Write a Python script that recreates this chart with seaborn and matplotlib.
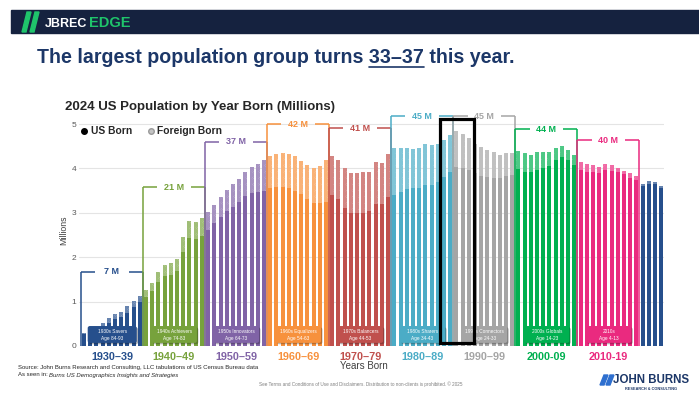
import numpy as np
import pandas as pd
import matplotlib.pyplot as plt
import seaborn as sns
import matplotlib.patheffects as pe
from matplotlib.patches import FancyBboxPatch, Rectangle, Polygon
from matplotlib.lines import Line2D
from matplotlib.colors import to_rgb

sns.set_theme(style="white")
plt.rcParams["font.family"] = ["Liberation Sans", "DejaVu Sans"]
plt.rcParams["hatch.linewidth"] = 0.8

# data (millions)
decades = [1930, 1940, 1950, 1960, 1970, 1980, 1990, 2000, 2010, 2020]
decade_labels = ["1930–39", "1940–49", "1950–59", "1960–69", "1970–79",
                 "1980–89", "1990–99", "2000-09", "2010-19"]
decade_totals = ["7 M", "21 M", "37 M", "42 M", "41 M", "45 M", "45 M", "44 M", "40 M"]
generation_names = ["1930s Savers", "1940s Achievers", "1950s Innovators", "1960s Equalizers",
                    "1970s Balancers", "1980s Sharers", "1990s Connectors", "2000s Globals", "2010s"]
generation_ages = ["Age 84-93", "Age 74-83", "Age 64-73", "Age 54-63", "Age 44-53",
                   "Age 34-43", "Age 24-33", "Age 14-23", "Age 4-13"]
decade_colors = ["#264f8c", "#77a23c", "#8063a6", "#f7913d", "#c0504d",
                 "#4bacc6", "#a5a5a5", "#00b050", "#ea2a7f", "#264f8c"]

total_pop = [
    0.30, 0.36, 0.42, 0.52, 0.62, 0.72, 0.77, 0.89, 1.01, 1.13,
    1.26, 1.43, 1.67, 1.83, 1.86, 1.96, 2.45, 2.82, 2.80, 2.89,
    3.02, 3.18, 3.35, 3.51, 3.65, 3.77, 3.92, 4.04, 4.10, 4.20,
    4.27, 4.33, 4.34, 4.33, 4.28, 4.16, 4.07, 4.02, 4.05, 4.18,
    4.28, 4.20, 4.02, 3.90, 3.89, 3.92, 3.93, 4.14, 4.13, 4.32,
    4.46, 4.47, 4.47, 4.43, 4.46, 4.54, 4.53, 4.56, 4.64, 4.76,
    4.85, 4.77, 4.68, 4.55, 4.48, 4.41, 4.37, 4.31, 4.35, 4.35,
    4.40, 4.35, 4.31, 4.36, 4.36, 4.38, 4.47, 4.51, 4.42, 4.30,
    4.15, 4.10, 4.08, 4.04, 4.10, 4.08, 4.02, 3.94, 3.89, 3.83,
    3.65, 3.72, 3.69, 3.60,
]
us_born = [
    0.28, 0.33, 0.38, 0.45, 0.51, 0.60, 0.66, 0.75, 0.87, 0.98,
    1.10, 1.24, 1.45, 1.58, 1.61, 1.69, 2.12, 2.44, 2.40, 2.48,
    2.62, 2.76, 2.90, 3.03, 3.14, 3.25, 3.37, 3.44, 3.47, 3.50,
    3.56, 3.59, 3.59, 3.56, 3.50, 3.42, 3.32, 3.23, 3.21, 3.25,
    3.39, 3.30, 3.11, 3.00, 2.99, 2.99, 3.03, 3.19, 3.19, 3.35,
    3.40, 3.47, 3.53, 3.55, 3.56, 3.62, 3.63, 3.70, 3.81, 3.91,
    4.04, 4.00, 3.96, 3.90, 3.84, 3.80, 3.79, 3.79, 3.83, 3.86,
    3.98, 3.92, 3.92, 3.96, 4.00, 4.05, 4.19, 4.26, 4.19, 4.08,
    3.96, 3.91, 3.91, 3.89, 3.96, 3.94, 3.92, 3.87, 3.79, 3.73,
    3.60, 3.66, 3.65, 3.57,
]
bracket_heights = [1.67, 3.58, 4.60, 5.00, 4.90, 5.18, 5.18, 4.88, 4.64]

NAVY = "#1c3768"
W, H = 699, 400
HEAD_SIZE = 14.1


def tint(c, f):
    return tuple(float(np.clip(1 - (1 - x) * f, 0, 1)) for x in to_rgb(c))


years = np.arange(1930, 1930 + len(total_pop))
df = pd.DataFrame({"year": years, "total": total_pop, "us": us_born})
df["decade"] = (df.year // 10 * 10).astype(str)

pal_dark = {str(d): c for d, c in zip(decades, decade_colors)}
pal_light = {str(d): tint(c, 0.3) for d, c in zip(decades, decade_colors)}
# hatch colour keyed by the light face colour
hatch_of = {tint(c, 0.3): tint(c, 0.7) for c in decade_colors}

fig = plt.figure(figsize=(W / 100, H / 100), dpi=100)
ax = fig.add_axes([79 / W, 54 / H, 585 / W, 224.2 / H])

# foreign born (hatched) behind, US born on top
sns.barplot(data=df, x="year", y="total", hue="decade", palette=pal_light,
            native_scale=True, dodge=False, width=0.65, saturation=1,
            errorbar=None, legend=False, linewidth=0, hatch="x" * 14, ax=ax)
n_foreign = len(ax.patches)
keys = list(hatch_of)
for p in ax.patches[:n_foreign]:
    fc = np.array(p.get_facecolor()[:3])
    k = min(keys, key=lambda c: np.abs(np.array(c) - fc).sum())
    p.set_edgecolor(hatch_of[k])
    p.set_linewidth(0)
sns.barplot(data=df, x="year", y="us", hue="decade", palette=pal_dark,
            native_scale=True, dodge=False, width=0.65, saturation=1,
            errorbar=None, legend=False, linewidth=0, ax=ax)

ax.set_xlim(1929.2, 2023.45)
ax.set_ylim(0, 5.05)
ax.set_xticks([])
ax.set_yticks(range(6))
ax.tick_params(axis="y", labelsize=6, labelcolor="#595959", pad=2, length=0)
ax.set_xlabel("")
ax.set_ylabel("")
ax.yaxis.grid(True, color="#e4e4e4", lw=0.8)
ax.set_axisbelow(True)
sns.despine(ax=ax, left=True, bottom=True)
ax.text(-0.026, 2.6, "Millions", rotation=90, fontsize=6.3, color="#404040",
        ha="center", va="center", transform=ax.get_yaxis_transform())

# brackets with decade totals
for i, d in enumerate(decades[:-1]):
    col = decade_colors[i]
    h = bracket_heights[i]
    x0, x1, xc = d - 0.5, d + 9.5, d + 4.5
    kw = dict(color=col, lw=1.1, clip_on=False, zorder=4, solid_capstyle="butt")
    ax.plot([x0, x0], [0, h], **kw)
    ax.plot([x1, x1], [0, h], **kw)
    ax.plot([x0, xc - 2.7], [h, h], **kw)
    ax.plot([xc + 2.7, x1], [h, h], **kw)
    ax.text(xc, h, decade_totals[i], color=col, fontsize=6.5, fontweight="bold",
            ha="center", va="center", zorder=5, clip_on=False)
    # decade label under axis
    ax.text(xc, -0.25, decade_labels[i], color=col, fontsize=7.8, fontweight="bold",
            ha="center", va="center", clip_on=False)
    # generation box
    bx0, bx1 = (d + 0.6, d + 8.5) if i == 0 else (d + 0.9, d + 8.2)
    box = FancyBboxPatch((bx0, 0.07), bx1 - bx0, 0.38,
                         boxstyle="round,pad=0,rounding_size=0.35",
                         mutation_aspect=0.14, facecolor=col, edgecolor="none",
                         zorder=5, clip_on=False,
                         path_effects=[pe.withSimplePatchShadow(offset=(1, -1), alpha=0.35)])
    ax.add_patch(box)
    ax.text((bx0 + bx1) / 2, 0.33, generation_names[i], color="white", fontsize=3.4,
            ha="center", va="center", zorder=6)
    ax.text((bx0 + bx1) / 2, 0.18, generation_ages[i], color="white", fontsize=3.4,
            ha="center", va="center", zorder=6)

ax.text(1975.1, -0.45, "Years Born", fontsize=7, color="#404040",
        ha="center", va="center", clip_on=False)

# highlight box + arrow
ax.add_patch(Rectangle((1987.35, 0.07), 5.48, 5.04, fill=False, edgecolor="black",
                       lw=2.3, zorder=7, clip_on=False))
ax.annotate("", xy=(1989.9, 5.15), xycoords="data",
            xytext=(383 / W, 1 - 86 / H), textcoords="figure fraction",
            arrowprops=dict(arrowstyle="-|>", lw=2, color="black",
                            mutation_scale=12, shrinkA=0, shrinkB=0), zorder=8)

# legend
fig.add_artist(Line2D([84 / W], [1 - 131 / H], marker="o", markersize=4,
                      color="black", linestyle="", transform=fig.transFigure))
fig.text(91 / W, 1 - 131 / H, "US Born", fontsize=7.4, fontweight="bold",
         color="#262626", va="center")
fig.add_artist(Line2D([151 / W], [1 - 131 / H], marker="o", markersize=4,
                      markerfacecolor="#c4c4c4", markeredgecolor="#9a9a9a",
                      linestyle="", transform=fig.transFigure))
fig.text(157 / W, 1 - 131 / H, "Foreign Born", fontsize=7.4, fontweight="bold",
         color="#262626", va="center")

# chart title
fig.text(65 / W, 1 - 107 / H, "2024 US Population by Year Born (Millions)",
         fontsize=9.5, fontweight="bold", color="#262626", va="center")

# banner
fig.add_artist(Rectangle((11 / W, 1 - 33 / H), 1, 23 / H, color="#15223f",
                         transform=fig.transFigure))
for dx in (0, 8):
    fig.add_artist(Polygon([((22 + dx) / W, 1 - 32 / H), ((26 + dx) / W, 1 - 32 / H),
                            ((31 + dx) / W, 1 - 12 / H), ((27 + dx) / W, 1 - 12 / H)],
                           closed=True, color="#1fc46b", transform=fig.transFigure))
fig.text(45 / W, 1 - 27 / H, "JBREC", fontsize=9, fontweight="bold", color="white",
         va="baseline")
fig.text(89 / W, 1 - 27 / H, "EDGE", fontsize=10.5, fontweight="bold", color="#1fc46b",
         va="baseline")

# headline with underlined years
head = "The largest population group turns 33–37 this year."
hx, hy = 37 / W, 1 - 63 / H
fig.text(hx, hy, head, fontsize=HEAD_SIZE, fontweight="bold", color=NAVY, va="baseline")
rend = fig.canvas.get_renderer()


def text_width(s):
    t = fig.text(0, 0, s, fontsize=HEAD_SIZE, fontweight="bold")
    wd = t.get_window_extent(renderer=rend).width
    t.remove()
    return wd


end = hx * W + text_width("The largest population group turns 33–37")
start = end - text_width("33–37")
fig.add_artist(Line2D([start / W, end / W], [hy - 4 / H] * 2, color=NAVY, lw=1.2,
                      transform=fig.transFigure))

# source and footer
fig.text(18 / W, 1 - 367 / H,
         "Source: John Burns Research and Consulting, LLC tabulations of US Census Bureau data",
         fontsize=4.3, color="#262626", va="center")
fig.text(18 / W, 1 - 375 / H, "As seen in: ", fontsize=4.3, color="#262626", va="center")
fig.text(49 / W, 1 - 375 / H, "Burns US Demographics Insights and Strategies",
         fontsize=4.3, color="#262626", va="center", style="italic")
fig.text(361 / W, 1 - 384 / H,
         "See Terms and Conditions of Use and Disclaimers. Distribution to non-clients is prohibited. © 2025",
         fontsize=3.3, color="#7f7f7f", ha="center", va="center")

# logo
for dx in (0, 6):
    fig.add_artist(Polygon([((600 + dx) / W, 1 - 385 / H), ((604 + dx) / W, 1 - 385 / H),
                            ((608 + dx) / W, 1 - 375 / H), ((604 + dx) / W, 1 - 375 / H)],
                           closed=True, color="#2e6fcf", transform=fig.transFigure))
fig.text(613 / W, 1 - 380 / H, "JOHN BURNS", fontsize=8.3, fontweight="bold",
         color=NAVY, va="center")
fig.text(651 / W, 1 - 389 / H, "RESEARCH & CONSULTING", fontsize=2.8,
         fontweight="bold", color=NAVY, ha="center", va="center")

fig.savefig("out.png", dpi=100)
